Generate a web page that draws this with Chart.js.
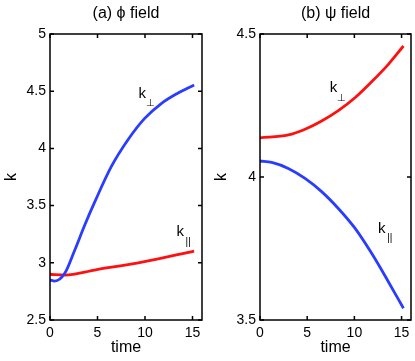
<!DOCTYPE html>
<html>
<head>
<meta charset="utf-8">
<script src="https://cdn.jsdelivr.net/npm/chart.js@4"></script>
<style>
  body { margin: 0; background: #fff; }
  #wrap { position: relative; width: 415px; height: 361px; }
  canvas { position: absolute; top: 0; }
</style>
</head>
<body>
<div id="wrap">
  <canvas id="left" width="207" height="361" style="left:0"></canvas>
  <canvas id="right" width="205" height="361" style="left:210px"></canvas>
</div>
<script>
// (a) phi field
const phiPerpT = [0, 0.5, 1.57, 2.6, 3.66, 4.7, 6.45, 8.19, 9.94, 11.68, 13.4, 15.17];
const phiPerpK = [2.85, 2.84, 2.91, 3.11, 3.33, 3.53, 3.84, 4.073, 4.26, 4.39, 4.48, 4.554];
const phiParT = [0, 1.57, 4.7, 9.94, 15.17];
const phiParK = [2.90, 2.893, 2.937, 3.01, 3.103];

// (b) psi field
const psiPerpT = [0, 3.0, 4.77, 6.53, 8.3, 10.06, 11.83, 13.6, 15.2];
const psiPerpK = [4.137, 4.147, 4.167, 4.196, 4.232, 4.277, 4.333, 4.394, 4.458];
const psiParT = [0, 1.24, 3.0, 4.77, 6.53, 8.3, 10.06, 11.83, 13.6, 15.2];
const psiParK = [4.056, 4.051, 4.030, 3.995, 3.949, 3.890, 3.821, 3.733, 3.634, 3.541];

const timeTicks = [0, 5, 10, 15];
const phiTicks = [2.5, 3, 3.5, 4, 4.5, 5];
const psiTicks = [3.5, 4, 4.5];

// curve labels: [subscript, t, k]
const phiLabels = [['\u22A5', 9.7, 4.48], ['||', 13.7, 3.27]];
const psiLabels = [['\u22A5', 7.8, 4.31], ['||', 12.9, 3.82]];

const BLUE = '#2a3cff';
const RED = '#ff1010';
const FONT = 'Liberation Sans, Arial, Helvetica, sans-serif';

function pts(ts, ks) {
    return ts.map((t, i) => ({x: t, y: ks[i]}));
}

const framePlugin = {
    id: 'frame',
    afterDatasetsDraw(chart, args, opts) {
        const {ctx, chartArea: a, scales} = chart;
        ctx.save();
        ctx.strokeStyle = '#000';
        ctx.lineWidth = 1.5;
        ctx.strokeRect(a.left, a.top, a.right - a.left, a.bottom - a.top);
        const len = 4;
        ctx.beginPath();
        scales.x.ticks.forEach(tk => {
            const px = scales.x.getPixelForValue(tk.value);
            ctx.moveTo(px, a.bottom); ctx.lineTo(px, a.bottom - len);
            ctx.moveTo(px, a.top); ctx.lineTo(px, a.top + len);
        });
        scales.y.ticks.forEach(tk => {
            const py = scales.y.getPixelForValue(tk.value);
            ctx.moveTo(a.left, py); ctx.lineTo(a.left + len, py);
            ctx.moveTo(a.right, py); ctx.lineTo(a.right - len, py);
        });
        ctx.stroke();

        // curve labels
        ctx.fillStyle = '#000';
        ctx.textAlign = 'center';
        ctx.textBaseline = 'middle';
        (opts.labels || []).forEach(([sub, t, k]) => {
            const px = scales.x.getPixelForValue(t);
            const py = scales.y.getPixelForValue(k);
            ctx.font = '15px ' + FONT;
            ctx.fillText('k', px, py);
            ctx.font = '10px ' + FONT;
            ctx.fillText(sub, px + 8, py + 10);
        });
        ctx.restore();
    }
};

function makeChart(id, title, perpT, perpK, parT, parK, yTicks, labels, perpColor, parColor) {
    const ctx = document.getElementById(id);
    return new Chart(ctx, {
        type: 'line',
        data: {
            datasets: [
                {
                    label: 'k perp',
                    data: pts(perpT, perpK),
                    borderColor: perpColor,
                    borderWidth: 2.8,
                    pointRadius: 0,
                    cubicInterpolationMode: 'monotone',
                    fill: false,
                },
                {
                    label: 'k par',
                    data: pts(parT, parK),
                    borderColor: parColor,
                    borderWidth: 2.8,
                    pointRadius: 0,
                    cubicInterpolationMode: 'monotone',
                    fill: false,
                },
            ]
        },
        options: {
            responsive: false,
            animation: false,
            layout: {padding: {left: 0, right: id === 'left' ? 5 : 4, top: 0, bottom: 0}},
            scales: {
                x: {
                    type: 'linear',
                    min: 0,
                    max: 16,
                    afterBuildTicks: s => { s.ticks = timeTicks.map(v => ({value: v})); },
                    afterFit: s => { s.height = 41; },
                    grid: {display: false, drawTicks: false},
                    border: {display: false},
                    ticks: {
                        padding: 5,
                        color: '#000',
                        font: {family: FONT, size: 14},
                        callback: v => String(v),
                    },
                    title: {
                        display: true,
                        text: 'time',
                        color: '#000',
                        font: {family: FONT, size: 16},
                        padding: {top: 0, bottom: 3.4},
                    },
                },
                y: {
                    type: 'linear',
                    min: yTicks[0],
                    max: yTicks[yTicks.length - 1],
                    afterBuildTicks: s => { s.ticks = yTicks.map(v => ({value: v})); },
                    afterFit: s => { s.width = 50; },
                    grid: {display: false, drawTicks: false},
                    border: {display: false},
                    ticks: {
                        padding: 4,
                        color: '#000',
                        font: {family: FONT, size: 14},
                        callback: v => String(v),
                    },
                    title: {
                        display: true,
                        text: 'k',
                        color: '#000',
                        font: {family: FONT, size: 16},
                        padding: {top: 2, bottom: 0},
                    },
                },
            },
            plugins: {
                legend: {display: false},
                tooltip: {enabled: false},
                title: {
                    display: true,
                    text: title,
                    fullSize: false,
                    color: '#000',
                    font: {family: FONT, size: 16, weight: 'normal'},
                    padding: {top: 4.4, bottom: 10.4},
                },
                frame: {labels: labels},
            },
        },
        plugins: [framePlugin],
    });
}

makeChart('left', '(a) \u03D5 field', phiPerpT, phiPerpK, phiParT, phiParK, phiTicks, phiLabels, BLUE, RED);
makeChart('right', '(b) \u03C8 field', psiPerpT, psiPerpK, psiParT, psiParK, psiTicks, psiLabels, RED, BLUE);
</script>
</body>
</html>
